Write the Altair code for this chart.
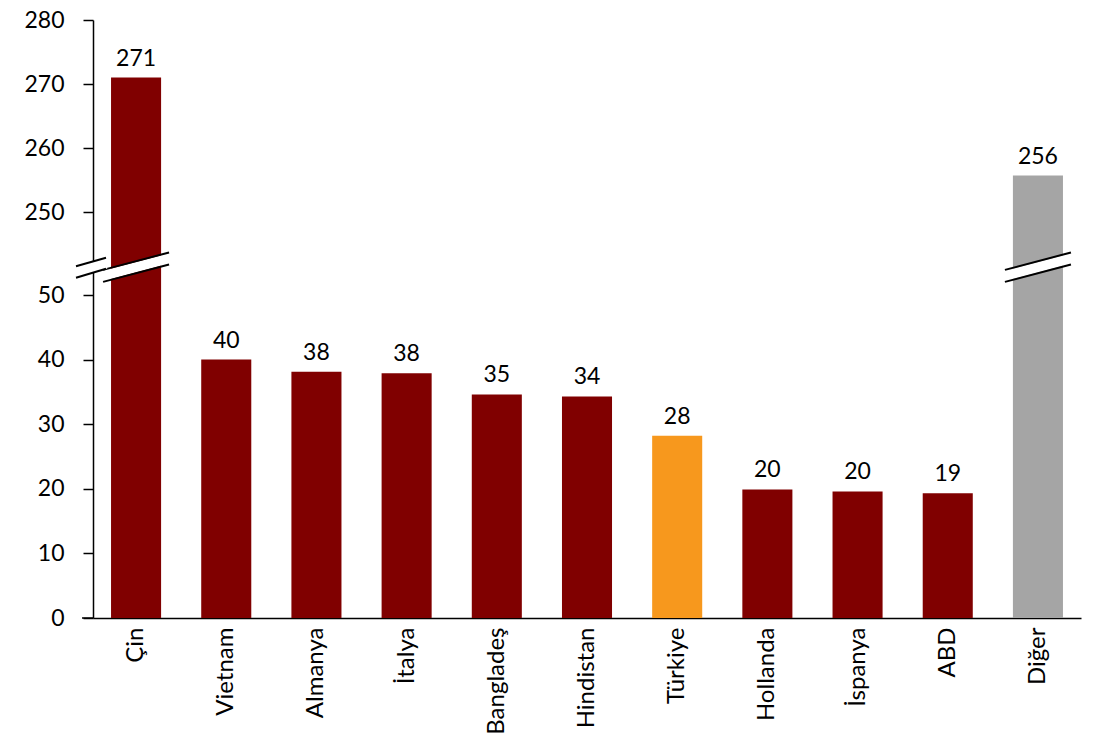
import altair as alt
import pandas as pd

categories = ["Çin", "Vietnam", "Almanya", "İtalya", "Bangladeş", "Hindistan",
              "Türkiye", "Hollanda", "İspanya", "ABD", "Diğer"]
values = [271.0, 40.0, 38.1, 37.9, 34.6, 34.3, 28.2, 19.9, 19.6, 19.3, 255.7]
bar_colors = ["#800000", "#800000", "#800000", "#800000", "#800000", "#800000",
              "#F7981D", "#800000", "#800000", "#800000", "#A5A5A5"]
y_ticks = [0, 10, 20, 30, 40, 50, 250, 260, 270, 280]
broken_bars = ["Çin", "Diğer"]
break_value = 117  # a value inside the axis gap (between 50 and 250)

FONT = "Lato"
W, H = 988, 598

df = pd.DataFrame({"cat": categories, "value": values})
brk = pd.DataFrame({"cat": broken_bars, "b": [break_value] * len(broken_bars)})
brk_axis = pd.DataFrame({"b": [break_value]})
base_line = pd.DataFrame({"b": [0]})

yscale = alt.Scale(domain=[0, 50, 250, 280], range=[H, 275, 192, 0], nice=False, zero=False)
xscale = alt.Scale(domain=categories, paddingInner=0.445, paddingOuter=0.2)

x_enc = alt.X("cat:N", sort=categories, scale=xscale, title=None,
              axis=alt.Axis(labelAngle=-90, ticks=False, labelPadding=9, labelFontSize=24))
y_enc = alt.Y("value:Q", scale=yscale, title=None,
              axis=alt.Axis(values=y_ticks, tickSize=10, labelPadding=19, labelFontSize=23))

bars = alt.Chart(df).mark_bar().encode(
    x=x_enc,
    y=y_enc,
    color=alt.Color("cat:N", scale=alt.Scale(domain=categories, range=bar_colors), legend=None),
)

labels = alt.Chart(df).mark_text(baseline="alphabetic", dy=-12, fontSize=23, font=FONT, color="black").encode(
    x=alt.X("cat:N", sort=categories, scale=xscale, title=None),
    y=alt.Y("value:Q", scale=yscale, title=None),
    text=alt.Text("value:Q", format=".0f"),
)

def bar_break(color, width, y0, y1):
    return alt.Chart(brk).mark_rule(color=color, strokeWidth=width, strokeCap="butt",
                                    xOffset=-33, x2Offset=33, yOffset=y0, y2Offset=y1).encode(
        x=alt.X("cat:N", sort=categories, scale=xscale, title=None, bandPosition=0.5),
        x2=alt.X2("cat", bandPosition=0.5),
        y=alt.Y("b:Q", scale=yscale, title=None),
        y2=alt.Y2("b"),
    )

def axis_break(color, width, y0, y1):
    return alt.Chart(brk_axis).mark_rule(color=color, strokeWidth=width, strokeCap="butt",
                                         xOffset=-17, x2Offset=13, yOffset=y0, y2Offset=y1).encode(
        x=alt.value(0),
        x2=alt.value(0),
        y=alt.Y("b:Q", scale=yscale, title=None),
        y2=alt.Y2("b"),
    )

baseline_ext = alt.Chart(base_line).mark_rule(color="black", strokeWidth=1.5).encode(
    x=alt.value(-11),
    x2=alt.value(0),
    y=alt.Y("b:Q", scale=yscale, title=None),
)

chart = alt.layer(
    bars,
    labels,
    bar_break("white", 10, 8.7, -8.7),
    bar_break("black", 2, 2.7, -14.7),
    bar_break("black", 2, 14.7, -2.7),
    axis_break("white", 10, 4.8, -3.6),
    axis_break("black", 2, -1.0, -9.5),
    axis_break("black", 2, 10.5, 1.5),
    baseline_ext,
).properties(
    width=W,
    height=H,
    autosize=alt.AutoSizeParams(type="none"),
    padding={"left": 85, "top": 12, "right": 13, "bottom": 116},
).configure_view(
    stroke=None
).configure_axis(
    labelFont=FONT,
    labelFontSize=22,
    labelColor="black",
    domainColor="black",
    domainWidth=1.5,
    tickColor="black",
    tickWidth=1.5,
    grid=False,
)

chart.save("out.html", embed_options={"renderer": "svg", "actions": False})
